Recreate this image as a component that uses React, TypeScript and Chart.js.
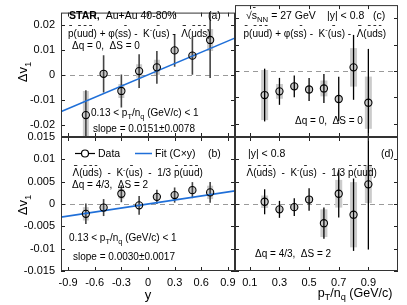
import React, { useEffect, useRef } from 'react';
import { Chart, registerables } from 'chart.js';

Chart.register(...registerables);

const W = 407;
const H = 305;
const LEFT = 61;
const MID = 235;
const RIGHT = 398;
const TOP = 5;
const HMID = 137;
const BOTTOM = 271;
const FONT = '"Liberation Sans", Arial, Helvetica, sans-serif';
const TXT = 10;

// ---- data ----
const rapidityBins = [-0.7, -0.5, -0.3, -0.1, 0.1, 0.3, 0.5, 0.7];
const ptBins = [0.2, 0.3, 0.4, 0.5, 0.6, 0.7, 0.8, 0.9];

// (a) dq=0, dS=0 vs y
const aValues = [-0.0162, 0.0004, -0.0065, 0.0015, 0.003, 0.0098, 0.0077, 0.014];
const aStat = [0.01, 0.0075, 0.0066, 0.0068, 0.0066, 0.0066, 0.0077, 0.0153];
const aSys = [0.0097, 0.001, 0.0028, 0.0027, 0.003, 0.001, 0.0012, 0.0044];
const aSlope = 0.0151;

// (b) dq=4/3, dS=2 vs y
const bValues = [-0.0022, -0.0008, 0.0023, -0.0003, 0.0016, 0.002, 0.0031, 0.0026];
const bStat = [0.0023, 0.0019, 0.0019, 0.0021, 0.0016, 0.0017, 0.0018, 0.0023];
const bSys = [0.0015, 0.0005, 0.0011, 0.0004, 0.0006, 0.0007, 0.0008, 0.0015];
const bSlope = 0.003;

// (c) dq=0, dS=0 vs pT/nq
const cValues = [-0.0091, -0.0077, -0.0058, -0.007, -0.0066, -0.0106, 0.0014, -0.012];
const cStat = [0.01, 0.0051, 0.0041, 0.0044, 0.0055, 0.0084, 0.0123, 0.0204];
const cSys = [0.0095, 0.0028, 0.0012, 0.0012, 0.003, 0.0012, 0.0073, 0.0099];

// (d) dq=4/3, dS=2 vs pT/nq
const dValues = [0.0005, -0.0012, -0.0007, 0.001, -0.0043, 0.0023, -0.0024, 0.0044];
const dStat = [0.0028, 0.0019, 0.002, 0.0025, 0.0035, 0.0053, 0.0081, 0.0146];
const dSys = [0.0014, 0.0006, 0.0006, 0.0006, 0.0031, 0.0031, 0.0073, 0.0042];

// ---- axes ----
const rapidityTicks = [-0.9, -0.6, -0.3, 0, 0.3, 0.6, 0.9];
const ptTicks = [0.1, 0.3, 0.5, 0.7, 0.9];
const topYTicks = [-0.02, -0.01, 0, 0.01, 0.02];
const bottomYTicks = [-0.015, -0.01, -0.005, 0, 0.005, 0.01, 0.015];
const rapidityRange = [-0.98, 0.98];
const ptRange = [0, 1.1];
const topRange = [-0.025, 0.025];
const bottomRange = [-0.015, 0.015];
const fitRange = [-1.0, 1.0];

const formulaA = '~p(~u~u~d) + \u03c6(s~s) -  K^{-}(~us) -  ~\u039b(~u~d~s)';
const formulaB = '~\u039b(~u~d~s)  -  K^{-}(~us)  -  1/3 ~p(~u~u~d)';

type Seg = { t: string; bar?: boolean; sub?: boolean; sup?: boolean };

function parseRich(s: string): Seg[] {
  const out: Seg[] = [];
  let i = 0;
  while (i < s.length) {
    const c = s[i];
    if (c === '~') {
      out.push({ t: s[i + 1], bar: true });
      i += 2;
      continue;
    }
    if ((c === '_' || c === '^') && s[i + 1] === '{') {
      const j = s.indexOf('}', i);
      out.push({ t: s.slice(i + 2, j), sub: c === '_', sup: c === '^' });
      i = j + 1;
      continue;
    }
    const last = out[out.length - 1];
    if (last && !last.bar && !last.sub && !last.sup) last.t += c;
    else out.push({ t: c });
    i++;
  }
  return out;
}

function segSize(g: Seg, size: number) {
  return g.sub || g.sup ? size * 0.74 : size;
}

function richWidth(ctx: CanvasRenderingContext2D, s: string, size: number, bold = false) {
  let w = 0;
  for (const g of parseRich(s)) {
    ctx.font = `${bold ? 'bold ' : ''}${segSize(g, size)}px ${FONT}`;
    w += ctx.measureText(g.t).width;
  }
  return w;
}

function drawRich(ctx: CanvasRenderingContext2D, s: string, x: number, yc: number, size: number, bold = false) {
  ctx.save();
  ctx.fillStyle = '#000';
  ctx.textAlign = 'left';
  ctx.textBaseline = 'alphabetic';
  const base = yc + size * 0.36;
  let cx = x;
  for (const g of parseRich(s)) {
    const fs = segSize(g, size);
    ctx.font = `${bold ? 'bold ' : ''}${fs}px ${FONT}`;
    const dy = g.sub ? size * 0.3 : g.sup ? -size * 0.42 : 0;
    ctx.fillText(g.t, cx, base + dy);
    const w = ctx.measureText(g.t).width;
    if (g.bar) {
      const by = Math.round(base - size * 1.15);
      ctx.fillStyle = '#333';
      ctx.fillRect(cx + w * 0.22, by, Math.max(2.5, w * 0.5), 1);
      ctx.fillStyle = '#000';
    }
    cx += w;
  }
  ctx.restore();
  return cx - x;
}

function fmt(v: number) {
  if (Math.abs(v) < 1e-12) return '0';
  return String(+v.toFixed(4));
}

type Area = { left: number; top: number; right: number; bottom: number };

interface PanelSpec {
  area: Area;
  xRange: number[];
  yRange: number[];
  xTicks: number[];
  yTicks: number[];
  xLabels: boolean;
  yLabels: boolean;
  xs: number[];
  values: number[];
  stat: number[];
  sys: number[];
  sysWidth: number;
  statWidth: number;
  statColor: string;
  slope?: number;
  texts: (ctx: CanvasRenderingContext2D, a: Area) => void;
}

function drawDv1(ctx: CanvasRenderingContext2D, cx: number, cy: number) {
  ctx.save();
  ctx.translate(cx, cy);
  ctx.rotate(-Math.PI / 2);
  const s = '\u0394v_{1}';
  const w = richWidth(ctx, s, 13);
  drawRich(ctx, s, -w / 2, 0, 13);
  ctx.restore();
}

function drawCentered(ctx: CanvasRenderingContext2D, s: string, cx: number, cy: number, size: number) {
  const w = richWidth(ctx, s, size);
  drawRich(ctx, s, cx - w / 2, cy, size);
}

const PANELS: PanelSpec[] = [
  {
    area: { left: LEFT, top: TOP, right: MID, bottom: HMID },
    xRange: rapidityRange, yRange: topRange, xTicks: rapidityTicks, yTicks: topYTicks,
    xLabels: false, yLabels: true,
    xs: rapidityBins, values: aValues, stat: aStat, sys: aSys,
    sysWidth: 6, statWidth: 1.6, statColor: '#444', slope: aSlope,
    texts: (ctx) => {
      const w = drawRich(ctx, 'STAR,', 69, 15, 10.5, true);
      drawRich(ctx, 'Au+Au 40-80%', 69 + w + 6, 15, 10.5);
      drawRich(ctx, '(a)', 208, 15, 10.5);
      drawRich(ctx, formulaA, 68, 33, TXT);
      drawRich(ctx, '\u0394q = 0,  \u0394S = 0', 72, 45, TXT);
      drawRich(ctx, '0.13 < p_{T}/n_{q} (GeV/c) < 1', 91, 112, TXT);
      drawRich(ctx, 'slope = 0.0151\u00b10.0078', 93, 128, TXT);
      drawDv1(ctx, 22, 72);
    },
  },
  {
    area: { left: LEFT, top: HMID, right: MID, bottom: BOTTOM },
    xRange: rapidityRange, yRange: bottomRange, xTicks: rapidityTicks, yTicks: bottomYTicks,
    xLabels: true, yLabels: true,
    xs: rapidityBins, values: bValues, stat: bStat, sys: bSys,
    sysWidth: 6, statWidth: 1.6, statColor: '#444', slope: bSlope,
    texts: (ctx) => {
      ctx.save();
      ctx.strokeStyle = '#000';
      ctx.lineWidth = 1.2;
      ctx.beginPath();
      ctx.moveTo(75, 153.5);
      ctx.lineTo(95, 153.5);
      ctx.stroke();
      ctx.fillStyle = '#fff';
      ctx.beginPath();
      ctx.arc(85, 153.5, 3.5, 0, Math.PI * 2);
      ctx.fill();
      ctx.stroke();
      ctx.strokeStyle = '#1f6fd8';
      ctx.lineWidth = 1.5;
      ctx.beginPath();
      ctx.moveTo(135, 153.5);
      ctx.lineTo(152, 153.5);
      ctx.stroke();
      ctx.restore();
      drawRich(ctx, 'Data', 98, 153, 10.5);
      drawRich(ctx, 'Fit (C\u00d7y)', 155, 153, 10.5);
      drawRich(ctx, '(b)', 208, 153, 10.5);
      drawRich(ctx, formulaB, 72.5, 172.5, TXT);
      drawRich(ctx, '\u0394q = 4/3,  \u0394S = 2', 72, 184, TXT);
      drawRich(ctx, '0.13 < p_{T}/n_{q} (GeV/c) < 1', 69, 237, TXT);
      drawRich(ctx, 'slope = 0.0030\u00b10.0017', 73, 256.5, TXT);
      drawDv1(ctx, 22, 205);
      drawCentered(ctx, 'y', 148, 294, 13);
    },
  },
  {
    area: { left: MID, top: TOP, right: RIGHT, bottom: HMID },
    xRange: ptRange, yRange: topRange, xTicks: ptTicks, yTicks: topYTicks,
    xLabels: false, yLabels: false,
    xs: ptBins, values: cValues, stat: cStat, sys: cSys,
    sysWidth: 7, statWidth: 1.3, statColor: '#000',
    texts: (ctx) => {
      const w = drawRich(ctx, '\u221a~s', 246, 15, 10.5);
      drawRich(ctx, '_{NN} = 27 GeV', 246 + w, 15, 10.5);
      drawRich(ctx, '|y| < 0.8', 327, 15, 10.5);
      drawRich(ctx, '(c)', 373, 15, 10.5);
      drawRich(ctx, formulaA, 243.5, 33, TXT);
      drawRich(ctx, '\u0394q = 0,  \u0394S = 0', 295, 120, TXT);
    },
  },
  {
    area: { left: MID, top: HMID, right: RIGHT, bottom: BOTTOM },
    xRange: ptRange, yRange: bottomRange, xTicks: ptTicks, yTicks: bottomYTicks,
    xLabels: true, yLabels: false,
    xs: ptBins, values: dValues, stat: dStat, sys: dSys,
    sysWidth: 7, statWidth: 1.3, statColor: '#000',
    texts: (ctx, a) => {
      drawRich(ctx, '|y| < 0.8', 248, 153, 10.5);
      drawRich(ctx, '(d)', 381, 153, 10.5);
      ctx.save();
      ctx.beginPath();
      ctx.rect(a.left, a.top, a.right - a.left - 2, a.bottom - a.top);
      ctx.clip();
      drawRich(ctx, formulaB, 246.5, 172.5, TXT);
      ctx.restore();
      drawRich(ctx, '\u0394q = 4/3,  \u0394S = 2', 255, 253, TXT);
      drawCentered(ctx, 'p_{T}/n_{q} (GeV/c)', 355, 292, 12.5);
    },
  },
];

function makeDecor(p: PanelSpec) {
  return {
    id: 'decor',
    beforeDatasetsDraw(chart: any) {
      const { ctx, chartArea: a, scales } = chart;
      const py = Math.round(scales.y.getPixelForValue(0)) + 0.5;
      ctx.save();
      ctx.strokeStyle = '#9a9a9a';
      ctx.lineWidth = 1;
      ctx.setLineDash([5, 4]);
      ctx.beginPath();
      ctx.moveTo(a.left, py);
      ctx.lineTo(a.right, py);
      ctx.stroke();
      ctx.restore();
    },
    afterDatasetsDraw(chart: any) {
      const { ctx, chartArea: a, scales } = chart;
      ctx.save();
      ctx.strokeStyle = '#222';
      ctx.lineWidth = 1;
      const T = 4;
      ctx.beginPath();
      for (const v of p.xTicks) {
        const px = Math.round(scales.x.getPixelForValue(v)) + 0.5;
        ctx.moveTo(px, a.bottom);
        ctx.lineTo(px, a.bottom - T);
        ctx.moveTo(px, a.top);
        ctx.lineTo(px, a.top + T);
      }
      for (const v of p.yTicks) {
        const py = Math.round(scales.y.getPixelForValue(v)) + 0.5;
        ctx.moveTo(a.left, py);
        ctx.lineTo(a.left + T, py);
        ctx.moveTo(a.right, py);
        ctx.lineTo(a.right - T, py);
      }
      ctx.stroke();
      ctx.strokeStyle = '#333';
      ctx.strokeRect(a.left + 0.5, a.top + 0.5, a.right - a.left - 1, a.bottom - a.top - 1);
      ctx.restore();
      p.texts(ctx, { left: a.left, top: a.top, right: a.right, bottom: a.bottom });
    },
  };
}

function buildConfig(p: PanelSpec): any {
  const datasets: any[] = [
    {
      type: 'bar',
      label: 'sys',
      data: p.xs.map((x, i) => ({ x, y: [p.values[i] - p.sys[i], p.values[i] + p.sys[i]] })),
      backgroundColor: '#cbcbcb',
      borderWidth: 0,
      inflateAmount: 0,
      barThickness: p.sysWidth,
      grouped: false,
      order: 4,
    },
    {
      type: 'bar',
      label: 'stat',
      data: p.xs.map((x, i) => ({ x, y: [p.values[i] - p.stat[i], p.values[i] + p.stat[i]] })),
      backgroundColor: p.statColor,
      borderWidth: 0,
      inflateAmount: 0,
      barThickness: p.statWidth,
      grouped: false,
      order: 3,
    },
  ];
  if (p.slope !== undefined) {
    const s = p.slope;
    datasets.push({
      type: 'line',
      label: 'Fit (C\u00d7y)',
      data: fitRange.map((x) => ({ x, y: s * x })),
      borderColor: '#1f6fd8',
      borderWidth: 1.5,
      pointRadius: 0,
      fill: false,
      order: 2,
    });
  }
  datasets.push({
    type: 'scatter',
    label: 'Data',
    data: p.xs.map((x, i) => ({ x, y: p.values[i] })),
    pointRadius: 3.6,
    pointBorderWidth: 1.1,
    borderColor: '#000',
    backgroundColor: 'rgba(0,0,0,0)',
    order: 1,
  });

  const YW = 40;
  const XH = 24;
  const padding = {
    left: p.yLabels ? p.area.left - YW : p.area.left,
    right: W - p.area.right,
    top: p.area.top,
    bottom: p.xLabels ? H - p.area.bottom - XH : H - p.area.bottom,
  };
  const tickFont = { family: FONT, size: 11 };
  return {
    type: 'scatter',
    data: { datasets },
    options: {
      animation: false,
      responsive: false,
      maintainAspectRatio: false,
      devicePixelRatio: 1,
      layout: { padding },
      plugins: { legend: { display: false }, tooltip: { enabled: false }, title: { display: false } },
      scales: {
        x: {
          type: 'linear',
          min: p.xRange[0],
          max: p.xRange[1],
          offset: false,
          display: p.xLabels,
          grid: { display: false, drawTicks: false, tickLength: 0 },
          border: { display: false },
          ticks: {
            autoSkip: false,
            maxRotation: 0,
            padding: 5,
            color: '#000',
            font: tickFont,
            callback: (v: number) => fmt(v),
          },
          afterBuildTicks: (s: any) => {
            s.ticks = p.xTicks.map((v) => ({ value: v }));
          },
          afterFit: p.xLabels ? (s: any) => { s.height = XH; } : undefined,
        },
        y: {
          type: 'linear',
          min: p.yRange[0],
          max: p.yRange[1],
          display: p.yLabels,
          grid: { display: false, drawTicks: false, tickLength: 0 },
          border: { display: false },
          ticks: {
            autoSkip: false,
            padding: 6,
            color: '#000',
            font: tickFont,
            callback: (v: number) => fmt(v),
          },
          afterBuildTicks: (s: any) => {
            s.ticks = p.yTicks.map((v) => ({ value: v }));
          },
          afterFit: p.yLabels ? (s: any) => { s.width = YW; } : undefined,
        },
      },
    },
    plugins: [makeDecor(p)],
  };
}

export default function App() {
  const refs = useRef<(HTMLCanvasElement | null)[]>([]);
  useEffect(() => {
    const charts = PANELS.map((p, i) => new Chart(refs.current[i] as HTMLCanvasElement, buildConfig(p)));
    return () => charts.forEach((c) => c.destroy());
  }, []);
  return (
    <div style={{ position: 'fixed', left: 0, top: 0, width: W, height: H, background: '#fff' }}>
      {PANELS.map((_, i) => (
        <canvas
          key={i}
          ref={(el) => { refs.current[i] = el; }}
          width={W}
          height={H}
          style={{ position: 'absolute', left: 0, top: 0, width: W, height: H }}
        />
      ))}
    </div>
  );
}
